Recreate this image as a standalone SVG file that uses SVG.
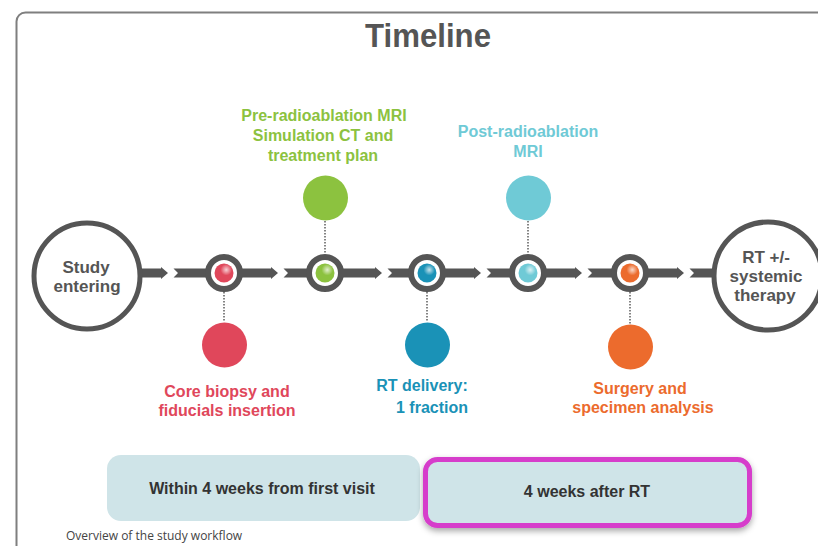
<svg xmlns="http://www.w3.org/2000/svg" width="818" height="546" viewBox="0 0 818 546">
  <style>
    text { font-family: "Liberation Sans", Arial, sans-serif; font-weight: bold; text-anchor: middle; }
    .frame { fill: #ffffff; stroke: #7f7f7f; stroke-width: 2; }
    .title { font-size: 33px; fill: #555555; }
    .big { fill: #ffffff; stroke: #555555; stroke-width: 5; }
    .bigtxt { font-size: 17px; fill: #555555; }
    .bar { fill: #555555; }
    .ring { fill: #ffffff; stroke: #555555; stroke-width: 6; }
    .dots { stroke: #666666; stroke-width: 1.6; stroke-dasharray: 1.6 1.4; fill: none; }
    .lbl { font-size: 16px; }
    .phase { fill: #cfe4e8; }
    .phasetxt { font-size: 16px; fill: #333333; }
    .caption { font-family: "Open Sans", "Liberation Sans", sans-serif; font-weight: normal; text-anchor: start; font-size: 12px; fill: #444444; }
    .red { fill: #e0475b; } .green { fill: #8cc23f; } .blue { fill: #1a92b7; }
    .cyan { fill: #6fcad6; } .orange { fill: #ec6b2d; }
  </style>
  <defs>
    <radialGradient id="gloss" cx="0.62" cy="0.33" r="0.3">
      <stop offset="0" stop-color="#ffffff" stop-opacity="0.75"/>
      <stop offset="1" stop-color="#ffffff" stop-opacity="0"/>
    </radialGradient>
    <filter id="shadow" x="-10%" y="-20%" width="120%" height="150%">
      <feDropShadow dx="0" dy="3" stdDeviation="3" flood-color="#000000" flood-opacity="0.35"/>
    </filter>
  </defs>

  <rect width="818" height="546" fill="#ffffff"/>
  <rect class="frame" x="16.5" y="12.5" width="840" height="560" rx="9"/>

  <text class="title" x="428" y="47" textLength="126" lengthAdjust="spacingAndGlyphs">Timeline</text>

  <!-- timeline bar segments with chevron joints -->
  <g id="connectors">
    <polygon class="bar" points="136,268.5 161,268.5 161,267 168,273 161,279 161,277.5 136,277.5"/>
    <polygon class="bar" points="172,267 173.5,268.5 271,268.5 271,267 278,273 271,279 271,277.5 173.5,277.5 172,279 178,273"/>
    <polygon class="bar" points="282,267 283.5,268.5 375,268.5 375,267 382,273 375,279 375,277.5 283.5,277.5 282,279 288,273"/>
    <polygon class="bar" points="386,267 387.5,268.5 474,268.5 474,267 481,273 474,279 474,277.5 387.5,277.5 386,279 392,273"/>
    <polygon class="bar" points="485,267 486.5,268.5 575,268.5 575,267 582,273 575,279 575,277.5 486.5,277.5 485,279 491,273"/>
    <polygon class="bar" points="586,267 587.5,268.5 677,268.5 677,267 684,273 677,279 677,277.5 587.5,277.5 586,279 592,273"/>
    <polygon class="bar" points="688,267 689.5,268.5 720,268.5 720,277.5 689.5,277.5 688,279 694,273"/>
    <line class="dots" x1="224" y1="292" x2="224" y2="322"/>
    <line class="dots" x1="325" y1="221" x2="325" y2="254"/>
    <line class="dots" x1="427" y1="292" x2="427" y2="322"/>
    <line class="dots" x1="528" y1="221" x2="528" y2="254"/>
    <line class="dots" x1="630" y1="292" x2="630" y2="324"/>
  </g>

  <g id="study-entering">
    <circle class="big" cx="87" cy="276" r="53"/>
    <text class="bigtxt" x="86" y="273">Study</text>
    <text class="bigtxt" x="87" y="292">entering</text>
  </g>

  <g id="rt-systemic">
    <circle class="big" cx="768" cy="276" r="54"/>
    <text class="bigtxt" x="766" y="263">RT +/-</text>
    <text class="bigtxt" x="766" y="282">systemic</text>
    <text class="bigtxt" x="765" y="301">therapy</text>
  </g>

  <g id="core-biopsy">
    <circle class="ring" cx="224" cy="273" r="16"/>
    <circle class="red" cx="224" cy="273" r="9.5"/>
    <circle cx="224" cy="273" r="9.5" fill="url(#gloss)"/>
    <circle class="red" cx="224.5" cy="345" r="22.5"/>
    <text class="lbl red" x="227" y="397">Core biopsy and</text>
    <text class="lbl red" x="227" y="416">fiducials insertion</text>
  </g>

  <g id="pre-radioablation">
    <circle class="ring" cx="325" cy="273" r="16"/>
    <circle class="green" cx="325" cy="273" r="9.5"/>
    <circle cx="325" cy="273" r="9.5" fill="url(#gloss)"/>
    <circle class="green" cx="325.5" cy="198" r="22.5"/>
    <text class="lbl green" x="324" y="121">Pre-radioablation MRI</text>
    <text class="lbl green" x="323" y="141">Simulation CT and</text>
    <text class="lbl green" x="323" y="161">treatment plan</text>
  </g>

  <g id="rt-delivery">
    <circle class="ring" cx="427" cy="273" r="16"/>
    <circle class="blue" cx="427" cy="273" r="9.5"/>
    <circle cx="427" cy="273" r="9.5" fill="url(#gloss)"/>
    <circle class="blue" cx="427.5" cy="345" r="22.5"/>
    <text class="lbl blue" x="422" y="391">RT delivery:</text>
    <text class="lbl blue" x="432" y="413">1 fraction</text>
  </g>

  <g id="post-radioablation">
    <circle class="ring" cx="528" cy="273" r="16"/>
    <circle class="cyan" cx="528" cy="273" r="9.5"/>
    <circle cx="528" cy="273" r="9.5" fill="url(#gloss)"/>
    <circle class="cyan" cx="528.5" cy="198" r="22.5"/>
    <text class="lbl cyan" x="528" y="137">Post-radioablation</text>
    <text class="lbl cyan" x="528" y="157">MRI</text>
  </g>

  <g id="surgery">
    <circle class="ring" cx="630" cy="273" r="16"/>
    <circle class="orange" cx="630" cy="273" r="9.5"/>
    <circle cx="630" cy="273" r="9.5" fill="url(#gloss)"/>
    <circle class="orange" cx="630.5" cy="347" r="22.5"/>
    <text class="lbl orange" x="640" y="394">Surgery and</text>
    <text class="lbl orange" x="643" y="413">specimen analysis</text>
  </g>

  <g id="phase-before">
    <rect class="phase" x="107" y="455" width="313" height="66" rx="14"/>
    <text class="phasetxt" x="262" y="494">Within 4 weeks from first visit</text>
  </g>

  <g id="phase-after">
    <rect class="phase" x="425.5" y="459.5" width="324" height="66" rx="12" stroke="#d63ccb" stroke-width="5" filter="url(#shadow)"/>
    <text class="phasetxt" x="587" y="497">4 weeks after RT</text>
  </g>

  <text class="caption" x="66" y="540">Overview of the study workflow</text>
</svg>
